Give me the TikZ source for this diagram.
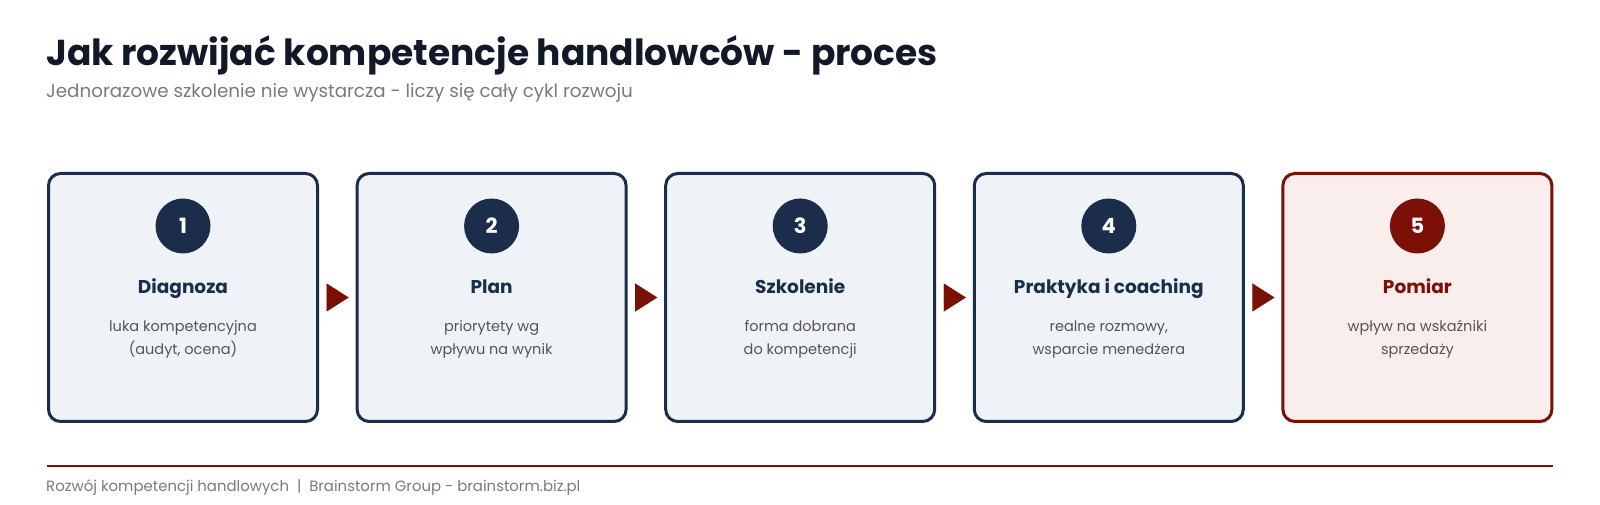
\documentclass[tikz,border=0pt]{standalone}
\usepackage{fontspec}
\setmainfont{Poppins}
\usetikzlibrary{positioning,arrows.meta}

\definecolor{navy}{HTML}{1B2D4B}
\definecolor{boxfill}{HTML}{EFF3F8}
\definecolor{darkred}{HTML}{7B1106}
\definecolor{redfill}{HTML}{F9EEEC}
\definecolor{titleink}{HTML}{111827}
\definecolor{greytext}{HTML}{555555}
\definecolor{lighttext}{HTML}{7A7A7A}

\begin{document}
\begin{tikzpicture}[x=1pt,y=1pt]
   \tikzstyle{stepbox}=[draw=navy, fill=boxfill, line width=3pt, rounded corners=12pt, minimum width=269pt, minimum height=248pt]
   \tikzstyle{lastbox}=[stepbox, draw=darkred, fill=redfill]
   \tikzstyle{numdot}=[circle, fill=navy, minimum size=55pt, inner sep=0pt, text=white, font=\fontsize{21}{24}\selectfont\bfseries]
   \tikzstyle{steptitle}=[anchor=base, text=navy, font=\fontsize{18.5}{22}\selectfont\bfseries]
   \tikzstyle{stepdesc}=[align=center, text=greytext, font=\fontsize{14.5}{23}\selectfont]
   \tikzstyle{flowarrow}=[darkred, line width=0.01pt, shorten <=7pt, shorten >=7pt, -{Triangle[length=22pt,width=28pt]}]

\fill[white] (0,0) rectangle (1600,505);
\useasboundingbox (0,0) rectangle (1600,505);

% heading
\node[anchor=base west, inner sep=0pt, text=titleink, font=\fontsize{36}{42}\selectfont\bfseries] (title) at (46,439) {Jak rozwijać kompetencje handlowców - proces};
\node[anchor=base west, inner sep=0pt, text=lighttext, font=\fontsize{18.3}{22}\selectfont] (subtitle) at (46,407) {Jednorazowe szkolenie nie wystarcza - liczy się cały cykl rozwoju};

% steps
\node[stepbox] (b1) at (183,207.5) {};
\node[stepbox, right=36.6pt of b1] (b2) {};
\node[stepbox, right=36.6pt of b2] (b3) {};
\node[stepbox, right=36.6pt of b3] (b4) {};
\node[lastbox, right=36.6pt of b4] (b5) {};

\node[numdot] (n1) at ([yshift=-54pt]b1.north) {1};
\node[numdot] (n2) at ([yshift=-54pt]b2.north) {2};
\node[numdot] (n3) at ([yshift=-54pt]b3.north) {3};
\node[numdot] (n4) at ([yshift=-54pt]b4.north) {4};
\node[numdot, fill=darkred] (n5) at ([yshift=-54pt]b5.north) {5};

\node[steptitle] (t1) at ([yshift=-122pt]b1.north) {Diagnoza};
\node[steptitle] (t2) at ([yshift=-122pt]b2.north) {Plan};
\node[steptitle] (t3) at ([yshift=-122pt]b3.north) {Szkolenie};
\node[steptitle] (t4) at ([yshift=-122pt]b4.north) {Praktyka i coaching};
\node[steptitle, text=darkred] (t5) at ([yshift=-122pt]b5.north) {Pomiar};

\node[stepdesc] (d1) at ([yshift=-167.5pt]b1.north) {luka kompetencyjna\\(audyt, ocena)};
\node[stepdesc] (d2) at ([yshift=-167.5pt]b2.north) {priorytety wg\\wpływu na wynik};
\node[stepdesc] (d3) at ([yshift=-167.5pt]b3.north) {forma dobrana\\do kompetencji};
\node[stepdesc] (d4) at ([yshift=-167.5pt]b4.north) {realne rozmowy,\\wsparcie menedżera};
\node[stepdesc] (d5) at ([yshift=-167.5pt]b5.north) {wpływ na wskaźniki\\sprzedaży};

\draw[flowarrow] (b1) -- (b2);
\draw[flowarrow] (b2) -- (b3);
\draw[flowarrow] (b3) -- (b4);
\draw[flowarrow] (b4) -- (b5);

% footer
\draw[darkred, line width=1.5pt] (47,39) -- (1553,39);
\node[anchor=base west, inner sep=0pt, text=lighttext, font=\fontsize{14.9}{18}\selectfont] (footer) at (46,13) {Rozwój kompetencji handlowych \ | \ Brainstorm Group - brainstorm.biz.pl};
\end{tikzpicture}
\end{document}
